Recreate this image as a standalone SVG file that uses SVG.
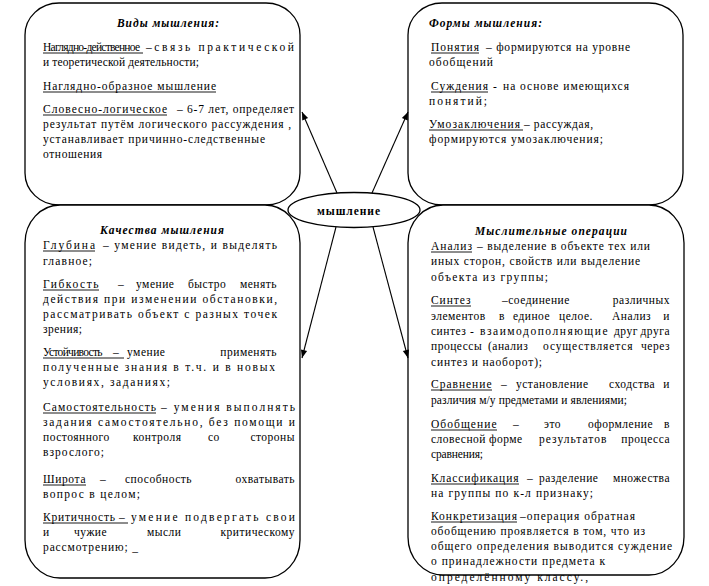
<svg xmlns="http://www.w3.org/2000/svg" width="709" height="586" viewBox="0 0 709 586" font-family="'Liberation Serif', 'DejaVu Serif', serif">
<defs>
<style>
.box{fill:#fff;stroke:#000;stroke-width:1.3}
.t{font-family:'Liberation Serif','DejaVu Serif',serif;font-size:11.5px;fill:#000}
.w{letter-spacing:0.5px}
.h{font-weight:bold;font-style:italic}
.b{font-weight:bold}
.e{text-anchor:end}
.ul{stroke:#000;stroke-width:0.9}
.c{stroke:#000;stroke-width:1.1;fill:none;marker-end:url(#arr)}
</style>
<marker id="arr" viewBox="0 0 10 10" refX="10" refY="5" markerWidth="9" markerHeight="8" markerUnits="userSpaceOnUse" orient="auto">
<path d="M0,1 L10,5 L0,9 z" fill="#000"/>
</marker>
</defs>
<rect width="709" height="586" fill="#fff"/>

<g id="vidy">
<rect class="box" x="25" y="3" width="275" height="202" rx="34" ry="32"/>
<text class="t h" x="117" y="27" textLength="102" lengthAdjust="spacing">Виды мышления:</text>
<text class="t" y="51"><tspan x="43" textLength="97" lengthAdjust="spacing">Наглядно-действенное</tspan> <tspan x="146" textLength="148" lengthAdjust="spacing">–связь практической</tspan></text>
<text class="t" x="43" y="66" textLength="156" lengthAdjust="spacing">и теоретической деятельности;</text>
<text class="t" x="43" y="90" textLength="173" lengthAdjust="spacing">Наглядно-образное мышление</text>
<text class="t" y="113"><tspan x="43" textLength="124" lengthAdjust="spacing">Словесно-логическое</tspan>  <tspan x="177" textLength="117" lengthAdjust="spacing">– 6-7 лет, определяет</tspan></text>
<text class="t" x="43" y="128" textLength="248" lengthAdjust="spacing">результат путём логического рассуждения ,</text>
<text class="t" x="43" y="143" textLength="222" lengthAdjust="spacing">устанавливает причинно-следственные</text>
<text class="t" x="43" y="158" textLength="59" lengthAdjust="spacing">отношения</text>
<line class="ul" x1="43" y1="53" x2="143" y2="53"/>
<line class="ul" x1="43" y1="92" x2="216" y2="92"/>
<line class="ul" x1="43" y1="115" x2="167" y2="115"/>
</g>

<g id="formy">
<rect class="box" x="408" y="3" width="275" height="202" rx="34" ry="32"/>
<text class="t h" x="429" y="27" textLength="113" lengthAdjust="spacing">Формы мышления:</text>
<text class="t" y="51"><tspan x="431" textLength="48" lengthAdjust="spacing">Понятия</tspan> <tspan x="486" textLength="144" lengthAdjust="spacing">– формируются на уровне</tspan></text>
<text class="t" x="429" y="66" textLength="64" lengthAdjust="spacing">обобщений</text>
<text class="t" y="90"><tspan x="431" textLength="57" lengthAdjust="spacing">Суждения</tspan> <tspan x="493">-</tspan>  <tspan x="503" textLength="126" lengthAdjust="spacing">на основе имеющихся</tspan></text>
<text class="t" x="429" y="105" textLength="58" lengthAdjust="spacing">понятий;</text>
<text class="t" y="128"><tspan x="429" textLength="91" lengthAdjust="spacing">Умозаключения</tspan> <tspan x="524" textLength="69" lengthAdjust="spacing">– рассуждая,</tspan></text>
<text class="t" x="429" y="143" textLength="174" lengthAdjust="spacing">формируются умозаключения;</text>
<line class="ul" x1="431" y1="53" x2="479" y2="53"/>
<line class="ul" x1="431" y1="92" x2="488" y2="92"/>
<line class="ul" x1="429" y1="130" x2="523" y2="130"/>
</g>

<g id="kachestva">
<rect class="box" x="25" y="205" width="275" height="373" rx="35" ry="38"/>
<text class="t h" x="100" y="234" textLength="124" lengthAdjust="spacing">Качества мышления</text>
<text class="t" y="249"><tspan x="43" textLength="52" lengthAdjust="spacing">Глубина</tspan> <tspan x="103" textLength="174" lengthAdjust="spacing">– умение видеть, и выделять</tspan></text>
<text class="t" x="43" y="265" textLength="49" lengthAdjust="spacing">главное;</text>
<text class="t w" y="288"><tspan x="43" textLength="56" lengthAdjust="spacing">Гибкость</tspan> <tspan x="118">–</tspan> <tspan x="136">умение</tspan> <tspan x="188">быстро</tspan> <tspan class="e" x="277">менять</tspan></text>
<text class="t" x="43" y="303" textLength="234" lengthAdjust="spacing">действия при изменении обстановки,</text>
<text class="t" x="43" y="318" textLength="234" lengthAdjust="spacing">рассматривать объект с разных точек</text>
<text class="t" x="43" y="333" textLength="39" lengthAdjust="spacing">зрения;</text>
<text class="t w" y="356"><tspan x="43" textLength="60" lengthAdjust="spacing">Устойчивость</tspan> <tspan x="113">–</tspan> <tspan x="127">умение</tspan> <tspan class="e" x="277">применять</tspan></text>
<text class="t" x="43" y="371" textLength="232" lengthAdjust="spacing">полученные знания в т.ч. и в новых</text>
<text class="t" x="43" y="386" textLength="127" lengthAdjust="spacing">условиях, заданиях;</text>
<text class="t" y="411"><tspan x="43" textLength="113" lengthAdjust="spacing">Самостоятельность</tspan> <tspan x="161" textLength="134" lengthAdjust="spacing">– умения выполнять</tspan></text>
<text class="t" x="43" y="426" textLength="252" lengthAdjust="spacing">задания самостоятельно, без помощи и</text>
<text class="t w" y="441"><tspan x="43">постоянного</tspan> <tspan x="133">контроля</tspan> <tspan x="208">со</tspan> <tspan class="e" x="295">стороны</tspan></text>
<text class="t" x="43" y="456" textLength="61" lengthAdjust="spacing">взрослого;</text>
<text class="t w" y="483"><tspan x="43" textLength="43" lengthAdjust="spacing">Широта</tspan> <tspan x="100">–</tspan> <tspan x="125">способность</tspan> <tspan class="e" x="295">охватывать</tspan></text>
<text class="t" x="43" y="498" textLength="97" lengthAdjust="spacing">вопрос в целом;</text>
<text class="t" y="521"><tspan x="43" textLength="72" lengthAdjust="spacing">Критичность</tspan> <tspan x="119">–</tspan> <tspan x="131" textLength="164" lengthAdjust="spacing">умение подвергать свои</tspan></text>
<text class="t w" y="536"><tspan x="43">и</tspan> <tspan x="74">чужие</tspan> <tspan x="147">мысли</tspan> <tspan class="e" x="295">критическому</tspan></text>
<text class="t" x="43" y="551" textLength="95" lengthAdjust="spacing">рассмотрению; _</text>
<line class="ul" x1="43" y1="251" x2="95" y2="251"/>
<line class="ul" x1="43" y1="290" x2="99" y2="290"/>
<line class="ul" x1="43" y1="358" x2="124" y2="358"/>
<line class="ul" x1="43" y1="413" x2="156" y2="413"/>
<line class="ul" x1="43" y1="485" x2="86" y2="485"/>
<line class="ul" x1="43" y1="523" x2="128" y2="523"/>
</g>

<g id="operacii">
<rect class="box" x="408" y="205" width="276" height="370" rx="35" ry="38"/>
<text class="t h" x="475" y="235" textLength="152" lengthAdjust="spacing">Мыслительные операции</text>
<text class="t" y="250"><tspan x="431" textLength="41" lengthAdjust="spacing">Анализ</tspan> <tspan x="477" textLength="173" lengthAdjust="spacing">– выделение в объекте тех или</tspan></text>
<text class="t" x="431" y="265" textLength="209" lengthAdjust="spacing">иных сторон, свойств или выделение</text>
<text class="t" x="431" y="281" textLength="117" lengthAdjust="spacing">объекта из группы;</text>
<text class="t w" y="304"><tspan x="431" textLength="40" lengthAdjust="spacing">Синтез</tspan> <tspan x="502">–соединение</tspan> <tspan class="e" x="670">различных</tspan></text>
<text class="t w" y="320"><tspan x="431">элементов</tspan> <tspan x="499">в</tspan> <tspan x="513">единое</tspan> <tspan x="559">целое.</tspan> <tspan x="612">Анализ</tspan> <tspan class="e" x="670">и</tspan></text>
<text class="t w" y="335"><tspan x="431">синтез</tspan> <tspan x="470">-</tspan> <tspan x="480" textLength="128" lengthAdjust="spacing">взаимодополняющие</tspan> <tspan x="614">друг</tspan> <tspan class="e" x="670">друга</tspan></text>
<text class="t w" y="350"><tspan x="431">процессы</tspan> <tspan x="488">(анализ</tspan> <tspan x="543" textLength="90" lengthAdjust="spacing">осуществляется</tspan> <tspan class="e" x="670">через</tspan></text>
<text class="t" x="431" y="366" textLength="111" lengthAdjust="spacing">синтез и наоборот);</text>
<text class="t w" y="388"><tspan x="431" textLength="61" lengthAdjust="spacing">Сравнение</tspan> <tspan x="501">–</tspan> <tspan x="516">установление</tspan> <tspan x="609">сходства</tspan> <tspan class="e" x="670">и</tspan></text>
<text class="t" x="431" y="404" textLength="196" lengthAdjust="spacing">различия м/у предметами и явлениями;</text>
<text class="t w" y="428"><tspan x="431" textLength="66" lengthAdjust="spacing">Обобщение</tspan> <tspan x="513">–</tspan> <tspan x="544">это</tspan> <tspan x="588">оформление</tspan> <tspan class="e" x="670">в</tspan></text>
<text class="t w" y="443"><tspan x="431">словесной</tspan> <tspan x="489">форме</tspan> <tspan x="539" textLength="68" lengthAdjust="spacing">результатов</tspan> <tspan class="e" x="670">процесса</tspan></text>
<text class="t" x="431" y="458" textLength="52" lengthAdjust="spacing">сравнения;</text>
<text class="t w" y="482"><tspan x="431" textLength="88" lengthAdjust="spacing">Классификация</tspan> <tspan x="527">–</tspan> <tspan x="539">разделение</tspan> <tspan class="e" x="670">множества</tspan></text>
<text class="t" x="431" y="497" textLength="162" lengthAdjust="spacing">на группы по к-л признаку;</text>
<text class="t" y="520"><tspan x="431" textLength="86" lengthAdjust="spacing">Конкретизация</tspan> <tspan x="520" textLength="115" lengthAdjust="spacing">–операция обратная</tspan></text>
<text class="t" x="431" y="535" textLength="214" lengthAdjust="spacing">обобщению проявляется в том, что из</text>
<text class="t" x="431" y="550" textLength="241" lengthAdjust="spacing">общего определения выводится суждение</text>
<text class="t" x="431" y="565" textLength="174" lengthAdjust="spacing">о принадлежности предмета к</text>
<text class="t" x="431" y="581" textLength="157" lengthAdjust="spacing">определённому классу.,</text>
<line class="ul" x1="431" y1="252" x2="472" y2="252"/>
<line class="ul" x1="431" y1="306" x2="471" y2="306"/>
<line class="ul" x1="431" y1="390" x2="492" y2="390"/>
<line class="ul" x1="431" y1="430" x2="497" y2="430"/>
<line class="ul" x1="431" y1="484" x2="519" y2="484"/>
<line class="ul" x1="431" y1="522" x2="517" y2="522"/>
</g>

<g id="myshlenie">
<ellipse class="box" cx="354" cy="210" rx="66" ry="17.5"/>
<text class="t b" x="317" y="215" textLength="63" lengthAdjust="spacing">мышление</text>
</g>

<g id="connectors">
<line class="c" x1="337" y1="193" x2="302" y2="112"/>
<line class="c" x1="372" y1="193" x2="408" y2="112"/>
<line class="c" x1="336" y1="227" x2="302" y2="358"/>
<line class="c" x1="373" y1="227" x2="408" y2="358"/>
</g>
</svg>
